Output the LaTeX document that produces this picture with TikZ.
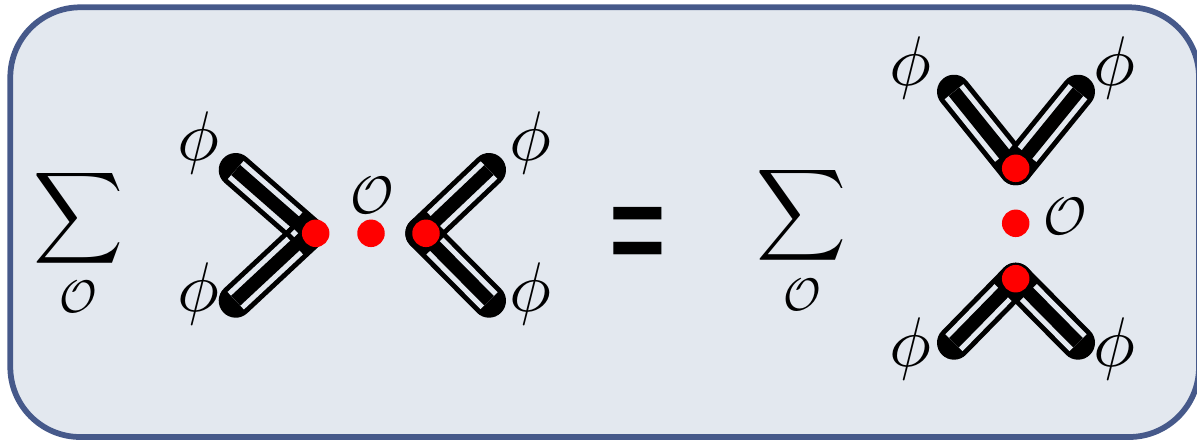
\documentclass[tikz,border=0pt]{standalone}
\usepackage{amsmath,amssymb}
\usepackage{fontspec}
\usepackage{tikz}
\usetikzlibrary{shapes.geometric}
\newfontfamily\eqfont{Poppins}
\definecolor{boxfill}{HTML}{E3E8EF}
\definecolor{boxline}{HTML}{46598A}
\newcommand{\bondarm}[2]{%
  \draw[bondline] (#1) -- (#2);
  \draw[bondgap] (#1) -- (#2);
  \draw[bondcore] (#1) -- (#2);
}

\begin{document}
\begin{tikzpicture}[
    x=0.02cm, y=-0.02cm,
    bondline/.style={black, line width=0.68cm, line cap=round},
    bondgap/.style={boxfill, line width=0.48cm, shorten >=0.36cm},
    bondcore/.style={black, line width=0.27cm},
    dot/.style={circle, fill=red, minimum size=0.55cm, inner sep=0pt},
    sym/.style={inner sep=0pt, scale=4},
    opsym/.style={inner sep=0pt, scale=3},
    subsym/.style={inner sep=0pt, scale=2.6},
    sumsym/.style={inner sep=0pt, xscale=3.55, yscale=3.65}
]
\useasboundingbox (0,0) rectangle (1197,443);

% Rounded frame
\draw[boxline, fill=boxfill, line width=0.115cm, rounded corners=1.4cm] (10.3,7.3) rectangle (1199,437);

% Left sum
\node[sumsym] (sumL) at (78.3,218.4) {$\displaystyle\sum$};
\node[subsym] (sumLop) at (78.7,297) {$\mathcal{O}$};

% Left chevrons
\coordinate (lu) at (235.7,170);
\coordinate (ld) at (235.7,300.7);
\coordinate (lv) at (308,233.3);
\coordinate (ru) at (489,170);
\coordinate (rd) at (489,300.7);
\coordinate (rv) at (422.3,233.3);
\bondarm{lu}{lv}
\bondarm{ld}{lv}
\bondarm{ru}{rv}
\bondarm{rd}{rv}
\node[diamond, fill=boxfill, minimum size=0.16cm, inner sep=0pt] (notch) at (294.3,233.3) {};
\node[dot] (lvdot) at (315.7,233.3) {};
\node[dot] (mdot) at (371,233.3) {};
\node[dot] (rvdot) at (426,233.3) {};
\node[opsym] (mop) at (372.7,195) {$\mathcal{O}$};
\node[sym] (philu) at (198,143) {$\phi$};
\node[sym] (phild) at (198,294) {$\phi$};
\node[sym] (phiru) at (530.7,143) {$\phi$};
\node[sym] (phird) at (530,294) {$\phi$};

% Equals
\node[inner sep=0pt, xscale=5.26, yscale=9.24, font=\eqfont] (eq) at (638.3,249) {=};

% Right sum
\node[sumsym] (sumR) at (802,215.5) {$\displaystyle\sum$};
\node[subsym] (sumRop) at (802,295) {$\mathcal{O}$};

% Right chevrons
\coordinate (tl) at (954,91.7);
\coordinate (tr) at (1078,91.7);
\coordinate (tv) at (1015.7,168.3);
\coordinate (bl) at (954,342.7);
\coordinate (br) at (1078,342.7);
\coordinate (bv) at (1015.7,279.7);
\bondarm{tl}{tv}
\bondarm{tr}{tv}
\bondarm{bl}{bv}
\bondarm{br}{bv}
\node[dot] (tvdot) at (1015.7,168.3) {};
\node[dot] (cdot) at (1015.7,223.3) {};
\node[dot] (bvdot) at (1015.7,278.7) {};
\node[opsym] (cop) at (1065,216.7) {$\mathcal{O}$};
\node[sym] (phitl) at (910.7,67.7) {$\phi$};
\node[sym] (phitr) at (1114,67.7) {$\phi$};
\node[sym] (phibl) at (910.7,349) {$\phi$};
\node[sym] (phibr) at (1114,349) {$\phi$};

\end{tikzpicture}
\end{document}
